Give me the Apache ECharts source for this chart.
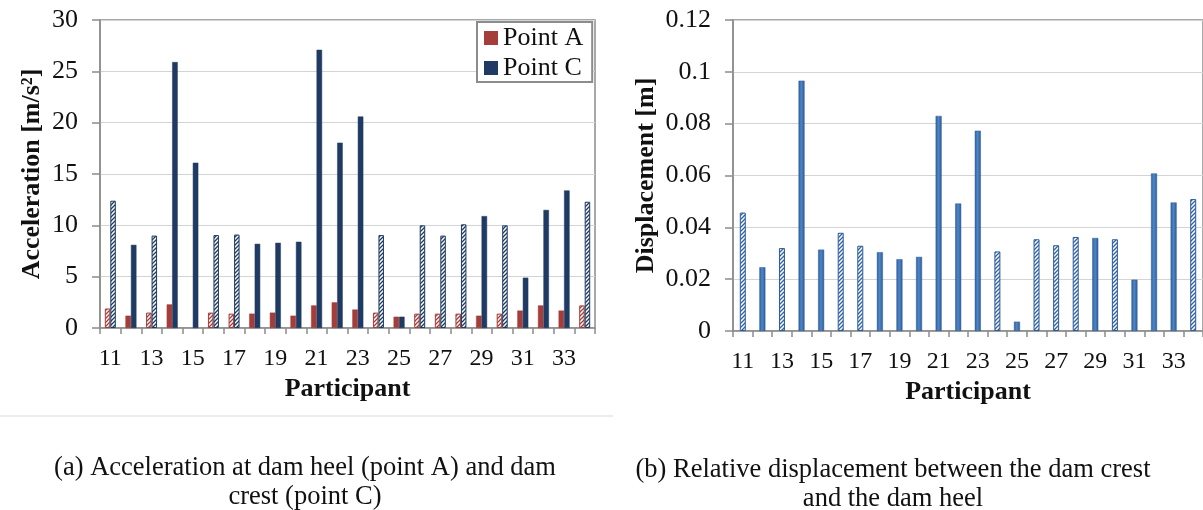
<!DOCTYPE html>
<html><head><meta charset="utf-8">
<script src="https://cdn.jsdelivr.net/npm/echarts@6.0.0/dist/echarts.min.js"></script>
<style>html,body{margin:0;padding:0;background:#fff}#c{width:1203px;height:510px}</style>
</head><body><div id="c"></div>
<script>
// ---- data ----
const participants = ['11','12','13','14','15','16','17','18','19','20','21','22','23','24','25','26','27','28','29','30','31','32','33','34'];
const pointA = [1.9, 1.2, 1.5, 2.3, null, 1.5, 1.4, 1.4, 1.5, 1.2, 2.2, 2.5, 1.8, 1.5, 1.1, 1.4, 1.4, 1.4, 1.2, 1.4, 1.7, 2.2, 1.7, 2.2];
const pointC = [12.4, 8.1, 9.0, 25.9, 16.1, 9.05, 9.1, 8.2, 8.3, 8.4, 27.1, 18.05, 20.6, 9.05, 1.1, 10.0, 9.0, 10.1, 10.9, 10.0, 4.9, 11.5, 13.4, 12.3];
const displacement = [0.0457, 0.0246, 0.032, 0.0966, 0.0314, 0.0379, 0.0329, 0.0304, 0.0277, 0.0286, 0.083, 0.0492, 0.0773, 0.0307, 0.0036, 0.0354, 0.0331, 0.0363, 0.0359, 0.0354, 0.0198, 0.0608, 0.0496, 0.0509];
const hatchedParticipants = ['11','13','16','17','24','26','27','28','30','34'];
const accAxis = {min: 0, max: 30, interval: 5};
const dispAxis = {min: 0, max: 0.12, interval: 0.02};
const captionA = ['(a) Acceleration at dam heel (point A) and dam', 'crest (point C)'];
const captionB = ['(b) Relative displacement between the dam crest', 'and the dam heel'];

// ---- styles ----
const SERIF = 'Liberation Serif, Times New Roman, serif';
const RED = '#A33E3B', NAVY = '#1F3B63', BLUE = '#3B6FB0';

function hatch(color){
  const n = 4;
  const c = document.createElement('canvas'); c.width = n; c.height = n;
  const g = c.getContext('2d');
  g.fillStyle = '#fff'; g.fillRect(0,0,n,n);
  g.strokeStyle = color; g.lineWidth = 1.3;
  g.beginPath();
  g.moveTo(-1, n+1); g.lineTo(n+1, -1);
  g.moveTo(-1, 1); g.lineTo(1, -1);
  g.moveTo(n-1, n+1); g.lineTo(n+1, n-1);
  g.stroke();
  return {image: c, repeat: 'repeat'};
}
function grad(dark, light){
  return new echarts.graphic.LinearGradient(0,0,1,0,[{offset:0,color:dark},{offset:0.45,color:light},{offset:1,color:dark}]);
}
function build(vals, solid, pat, border){
  return vals.map((v,i)=>({
    value: v,
    itemStyle: hatchedParticipants.includes(participants[i])
      ? {color: pat, borderColor: border, borderWidth: 1}
      : {color: solid, borderColor: border, borderWidth: 0.5}
  }));
}

const axisLineStyle = {color: '#8c8c8c', width: 1.5};
function xAxis(gridIndex){
  return {
    type: 'category', gridIndex, data: participants,
    axisLine: {lineStyle: axisLineStyle},
    axisTick: {show: true, interval: 0, length: 6, lineStyle: axisLineStyle},
    axisLabel: {interval: 1, fontFamily: SERIF, fontSize: 24, color: '#111', margin: 19},
    name: 'Participant', nameLocation: 'middle', nameGap: 47,
    nameTextStyle: {fontFamily: SERIF, fontSize: 26, fontWeight: 'bold', color: '#111'}
  };
}
function yAxis(gridIndex, cfg, name, gap, margin){
  return {
    type: 'value', gridIndex, min: cfg.min, max: cfg.max, interval: cfg.interval,
    axisLine: {show: true, lineStyle: axisLineStyle},
    axisTick: {show: true, length: 8, lineStyle: axisLineStyle},
    axisLabel: {fontFamily: SERIF, fontSize: 26, color: '#111', margin},
    splitLine: {lineStyle: {color: '#d4d4d4', width: 1}},
    name, nameLocation: 'middle', nameRotate: 90, nameGap: gap,
    nameTextStyle: {fontFamily: SERIF, fontSize: 26, fontWeight: 'bold', color: '#111'}
  };
}
function caption(lines, cx, y0){
  return lines.map((t,i)=>({
    type: 'text', x: cx, y: y0 + i*29,
    style: {text: t, align: 'center', verticalAlign: 'middle', font: '26.5px ' + SERIF, fill: '#111'}
  }));
}

const chart = echarts.init(document.getElementById('c'), null, {renderer: 'canvas'});
chart.setOption({
  animation: false,
  backgroundColor: '#fff',
  grid: [
    {left: 100, top: 20, width: 495, height: 308, show: true, borderColor: '#8c8c8c', borderWidth: 1.5},
    {left: 733, top: 20, width: 475, height: 311, show: true, borderColor: '#8c8c8c', borderWidth: 1.5}
  ],
  xAxis: [xAxis(0), xAxis(1)],
  yAxis: [yAxis(0, accAxis, 'Acceleration [m/s²]', 55, 22), yAxis(1, dispAxis, 'Displacement [m]', 74, 22)],
  legend: {
    data: ['Point A', 'Point C'], orient: 'vertical', left: 477, top: 22,
    icon: 'rect', itemWidth: 14, itemHeight: 14, itemGap: 4,
    borderColor: '#8c8c8c', borderWidth: 2, padding: [3, 9, 1, 7], backgroundColor: '#fff',
    textStyle: {fontFamily: SERIF, fontSize: 26, color: '#111'}
  },
  series: [
    {name: 'Point A', type: 'bar', xAxisIndex: 0, yAxisIndex: 0, barWidth: 5.5, barGap: '0%',
     itemStyle: {color: RED}, data: build(pointA, RED, hatch(RED), RED)},
    {name: 'Point C', type: 'bar', xAxisIndex: 0, yAxisIndex: 0, barWidth: 5.5, barGap: '0%',
     itemStyle: {color: NAVY}, data: build(pointC, NAVY, hatch(NAVY), NAVY)},
    {name: 'Displacement', type: 'bar', xAxisIndex: 1, yAxisIndex: 1, barWidth: 6,
     itemStyle: {color: BLUE}, data: build(displacement, grad('#2C5C98', '#4F86C8'), hatch('#2E62A8'), '#2C5C98')}
  ],
  graphic: [
    {type: 'line', shape: {x1: 0, y1: 416, x2: 613, y2: 416}, style: {stroke: '#dcdcdc', lineWidth: 1.2}},
    ...caption(captionA, 305, 468),
    ...caption(captionB, 893, 470)
  ]
});
</script></body></html>
